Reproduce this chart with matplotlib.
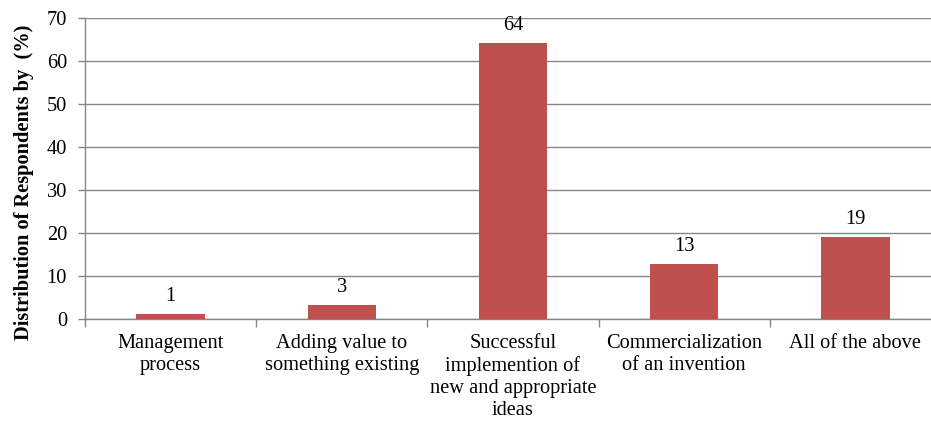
import matplotlib
matplotlib.use("Agg")
import matplotlib.pyplot as plt

categories = ["Management\nprocess",
              "Adding value to\nsomething existing",
              "Successful\nimplemention of\nnew and appropriate\nideas",
              "Commercialization\nof an invention",
              "All of the above"]
values = [1.1, 3.3, 64.2, 12.7, 19.0]
value_labels = ["1", "3", "64", "13", "19"]
yticks = [0, 10, 20, 30, 40, 50, 60, 70]

plt.rcParams['font.family'] = ['Liberation Serif', 'DejaVu Serif']
FS = 14.7

W, H = 931, 424
fig = plt.figure(figsize=(W/100, H/100), dpi=100)
left, right, bottom, top = 85, 941, 319, 18
ax = fig.add_axes([left/W, (H-bottom)/H, (right-left)/W, (bottom-top)/H])

x = list(range(len(categories)))
bars = ax.bar(x, values, width=0.4, color="#C0504D", zorder=3)
for xi, v, lab in zip(x, values, value_labels):
    ax.text(xi, v + 1.9, lab, ha="center", va="bottom", fontsize=FS, color="black")

ax.set_xlim(-0.5, len(categories) - 0.5)
ax.set_ylim(0, 70)
ax.set_yticks(yticks)
ax.set_yticklabels([str(t) for t in yticks], fontsize=FS)
ax.yaxis.grid(True, color="#868686", linewidth=1.0, zorder=0)
ax.set_axisbelow(True)

ax.set_xticks(x)
ax.set_xticklabels(categories, fontsize=FS)
ax.tick_params(axis="x", length=0, pad=11)
ax.set_xticks([i - 0.5 for i in range(len(categories) + 1)], minor=True)
ax.tick_params(axis="x", which="minor", length=6, color="#868686", width=1)
ax.tick_params(axis="y", length=5, color="#868686", width=1, pad=8)

for s in ["top", "right"]:
    ax.spines[s].set_visible(False)
for s in ["left", "bottom"]:
    ax.spines[s].set_color("#868686")
    ax.spines[s].set_linewidth(1.0)

ax.set_ylabel("Distribution of Respondents by  (%)", fontsize=FS, fontweight="bold")
ax.yaxis.set_label_coords(-0.0596, 0.455)

fig.savefig("out.png", dpi=100)
